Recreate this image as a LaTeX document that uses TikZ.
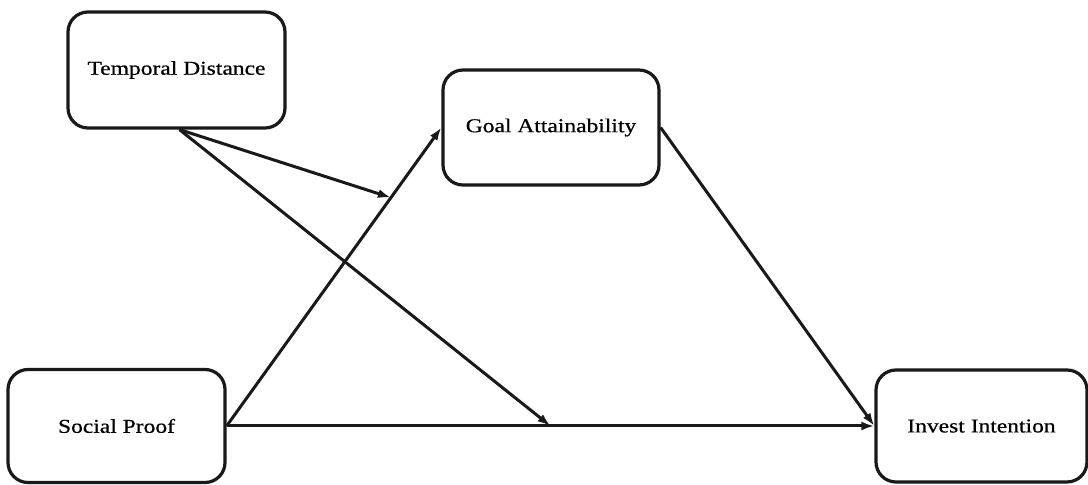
\documentclass[tikz,border=0pt]{standalone}
\usepackage{fontspec}
\setmainfont{Liberation Serif}[FakeStretch=1.2,FakeBold=0.6]
\usetikzlibrary{arrows.meta,calc}
\begin{document}
\begin{tikzpicture}[x=1pt,y=1pt,
  varbox/.style={draw=black!90, line width=3.2pt, rounded corners=20pt, fill=white,
    align=center, inner sep=0pt, font=\fontsize{19.6}{23}\selectfont},
  link/.style={draw=black!90, line width=3pt, -{Latex[length=13pt,width=9pt]}}]
\useasboundingbox (0,0) rectangle (1088,485);
\node[varbox, minimum width=217pt, minimum height=116pt] (T) at (176.5,415) {Temporal Distance};
\node[varbox, minimum width=216pt, minimum height=115pt] (G) at (551,357.5) {Goal Attainability};
\node[varbox, minimum width=217pt, minimum height=113pt] (S) at (116.5,59) {Social Proof};
\node[varbox, minimum width=211pt, minimum height=112pt] (I) at (981.5,59) {Invest Intention};
\coordinate (m1) at ($(S.east)!0.765!(G.west)$);
\coordinate (m2) at ($(S.east)!0.5!(I.west)$);
\draw[link] (S.east) -- (G.west);
\draw[link] (S.east) -- (I.west);
\draw[link] (G.east) -- (I.west);
\draw[link] ([xshift=3pt]T.south) -- (m1);
\draw[link] ([xshift=3pt]T.south) -- (m2);
\end{tikzpicture}
\end{document}
